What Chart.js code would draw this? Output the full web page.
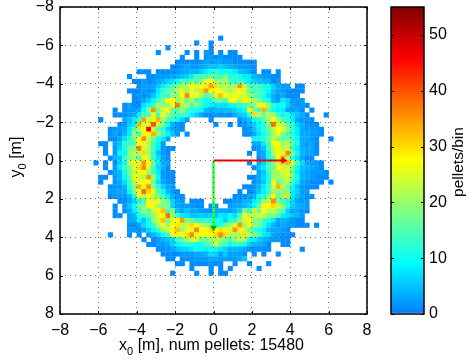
<!DOCTYPE html>
<html>
<head>
<meta charset="utf-8">
<script src="https://cdn.jsdelivr.net/npm/chart.js@4"></script>
<style>
  html, body { margin: 0; padding: 0; background: #fff; }
  #wrap { position: relative; width: 467px; height: 364px; overflow: hidden; }
  #map { position: absolute; left: 0; top: 0; }
  #bar { position: absolute; left: 380px; top: 0; }
</style>
</head>
<body>
<div id="wrap">
  <canvas id="map" width="467" height="364"></canvas>
  <canvas id="bar" width="87" height="364"></canvas>
</div>
<script>
const binSize = 0.25;
const tickValues = [-8, -6, -4, -2, 0, 2, 4, 6, 8];
const barTicks = [0, 10, 20, 30, 40, 50];
const maxCount = 55;
const barTitle = 'pellets/bin';

// lower edge of each row of bins
const rowY = [-6.5,-6.25,-6,-5.75,-5.5,-5.25,-5,-4.75,-4.5,-4.25,-4,-3.75,-3.5,-3.25,-3,-2.75,-2.5,-2.25,-2,-1.75,-1.5,-1.25,-1,-0.75,-0.5,-0.25,
  0,0.25,0.5,0.75,1,1.25,1.5,1.75,2,2.25,2.5,2.75,3,3.25,3.5,3.75,4,4.25,4.5,4.75,5,5.25,5.5,5.75];

// per row: runs of counts, first number of a run is the left edge of its first bin
const rowRuns = [
  [[0.25,1]],
  [[-1,1],[-0.25,1]],
  [[-2.5,1],[-0.25,1]],
  [[-3,1],[-1.5,1],[-1,1],[-0.5,2,1],[0.25,1],[0.75,1,1]],
  [[-1.75,1],[-1,1],[-0.5,1,2,1,2,1,1,1,1]],
  [[-2,1,1,1,1,1,2,3,2,3,3,2,2,1,1,1,1,1]],
  [[-2.25,1,1,2,3,2,2,3,4,5,5,6,5,4,3,2,2,2,1]],
  [[-4,1,1,1],[-3,1,1,1,1,2,3,3,4,4,6,8,10,13,9,10,10,8,5,4,3,1],[2.5,1,1],[3.25,1]],
  [[-4.5,1],[-3.5,1,1,2,2,2,3,4,5,6,8,14,13,14,16,15,13,19,11,12,10,8,8,4,3,2,2,1,1]],
  [[-4.25,1,1,2,1,2,3,4,6,7,9,14,12,18,15,18,28,28,20,19,21,14,12,13,11,8,6,5,4,4,1,2]],
  [[-4,1,2,2,3,5,8,11,14,18,22,22,26,25,27,24,34,30,21,22,20,20,35,23,15,14,14,11,10,6,3,2,2],[4.25,1,1]],
  [[-4.5,1,1,1,2,1,2,8,12,16,16,22,25,20,27,22,30,35,27,28,26,23,21,24,27,24,17,14,14,12,9,5,3,2,1,1,1,1]],
  [[-4.25,1,2,1,2,5,9,14,12,20,19,27,36,25,26,20,14,17,24,32,27,24,28,24,25,20,16,14,11,7,4,2,3,1,1,1]],
  [[-4.25,1,1,3,5,9,14,18,28,28,20,24,16,22,14,14,10,12,16,16,14,27,27,22,28,25,21,18,14,10,4,2,8,6,2,2,2]],
  [[-4.75,1,3,1,1,7,9,14,21,18,19,27,37,20,22,14,20,14,9,8,7,7,7,9,10,12,14,16,18,28,28,21,12,9,10,6,3,2,2,1]],
  [[-5.25,1],[-4.75,1,2,2,3,9,18,35,18,24,28,16,16,20,14,12,10,9,4,3,4,4,5,5,6,8,9,28,18,14,33,16,10,8,8,3,2,3,1],[5,1]],
  [[-5.25,1,1,1,2,3,8,14,14,26,14,27,20,16,14,14,12,8,6,3,1,1,2,1,2,1,3,5,6,12,30,22,17,22,20,14,9,11,7,5,3,1],[5.75,1]],
  [[-6,1],[-4.75,3,5,8,13,34,24,28,33,20,14,12,9,6,3],[-0.25,1],[1.25,1,3,5,9,11,16,20,27,20,14,12,8,3,2,2,1]],
  [[-5,1,2,6,8,33,24,25,40,24,18,10,4,2,1],[0,1],[0.75,1],[1.25,1,2,4,6,9,12,18,38,24,22,16,12,6,4,2,1,1]],
  [[-5.5,1,2,2,3,8,15,22,28,46,24,16,12,6,3,2,1],[1.5,1,2,5,8,12,16,23,27,26,18,12,8,3,2,2,2,1]],
  [[-5.5,1,3,1,4,8,20,14,26,28,33,20,14,9,5,2],[-1.5,1],[1.5,1,1,3,7,10,14,20,28,18,14,12,8,3,3,2,2,1]],
  [[-5.5,1,1,3,7,12,18,27,36,24,17,10,8,3],[2,9,10,13,16,23,18,16,17,13,9,3,3,2,1],[6,1]],
  [[-6,1,1],[-5.25,3,5,12,14,15,28,26,22,14,9,2],[2,3,3,8,14,27,27,20,22,16,10,3,2,3,1]],
  [[-5.75,1],[-5.25,2,6,11,17,19,37,24,22,13,8,2,1,1],[2,1,2,5,13,22,28,23,24,14,8,4,3,3,1]],
  [[-5.75,1],[-5.25,2,9,9,19,22,22,30,20,13,5,2,1],[1.75,1],[2.25,2,3,10,21,28,25,36,18,10,4,3,3,1]],
  [[-5.5,1,4,5,13,18,21,16,26,24,12,7,3,1],[2.25,1,3,9,15,27,35,22,12,7,3,1,1]],
  [[-6.25,1],[-5.75,1],[-5.25,1,6,9,22,26,24,35,28,16,8,3,2],[1.75,1],[2.25,3,6,12,18,24,30,33,24,14,7,3,2,2,1]],
  [[-5.75,1],[-5.25,2,8,13,18,25,30,36,25,14,7,4,1],[2,1,5,8,14,17,27,24,24,18,9,5,4,3,2,1]],
  [[-5.5,1,3,4,10,18,22,26,28,20,14,8,2,1,1],[2.25,3,5,12,20,22,24,26,16,8,4,3,2,2,2,1]],
  [[-6,1,1],[-5.25,2,4,9,15,28,24,22,35,20,9,2,1,1],[1.75,1,1,3,6,10,20,20,22,24,18,10,4,3,2,1,1,1]],
  [[-6,1],[-5.25,2,3,7,13,21,28,27,26,17,7,3,1,1],[2,1,3,5,10,28,16,20,22,14,8,3,2,1],[5.25,1,1],[6,1]],
  [[-5.5,1,2,2,4,12,19,33,25,35,19,12,6,3,2],[1.5,1,1,2,4,8,12,25,33,22,18,9,5,2,1,1,1]],
  [[-5.5,2,2,3,3,9,18,26,38,30,28,14,10,4,2,1],[1.25,1],[1.75,1,2,5,8,13,20,19,18,18,8,6,2,2]],
  [[-5.5,1,2,2,2,4,10,28,22,27,22,18,14,8,4,2,1],[1,1,1,1,3,4,10,12,18,28,17,20,30,8,5,3,1,1]],
  [[-5,1,1,3,6,10,14,28,24,28,18,16,6,3,2],[-1.25,1,1,1],[0.5,1,1,2,2,4,4,8,11,20,22,36,18,14,10,6,3,2,2]],
  [[-5.25,1],[-4.75,2,5,9,16,18,27,28,20,18,18,6,3,2,2,2,1,1],[-0.25,1,2],[0.75,2,3,3,4,6,9,16,28,28,30,24,20,12,6,4,3,2]],
  [[-5.25,1],[-4.75,1,3,8,13,20,16,24,28,32,14,18,5,3,5,3,3,2,2,1,3,3,3,2,4,6,18,14,24,17,28,22,24,18,16,6,3,3,2,1]],
  [[-5.25,1,1],[-4.5,3,4,10,14,16,19,25,27,38,20,14,8,7,5,5,6,5,6,5,8,7,9,7,14,27,22,22,24,23,18,18,15,8,7,5,4,2]],
  [[-4.5,3,3,9,5,9,20,24,32,18,26,27,35,18,16,12,12,12,10,12,9,6,12,12,18,24,28,18,18,14,11,8,3,4,3,2,1,1]],
  [[-4.5,1,1,2,7,10,14,21,27,20,27,29,22,24,30,28,22,20,17,10,12,16,22,24,35,20,27,19,18,12,7,4,2,3,2,2,1,1,1],[5.25,1]],
  [[-4.5,2,2,1,3,6,9,13,20,24,28,32,20,27,25,36,27,28,30,27,29,28,24,35,28,24,17,14,10,8,4,3,3,2,1]],
  [[-5.5,1],[-4.5,1],[-4,1],[-3.5,2,4,6,9,13,28,25,28,30,36,26,28,27,28,30,36,30,22,22,22,30,22,18,14,8,7,3,2,1,1,1]],
  [[-3.75,1],[-3.25,1,2,4,5,6,14,16,20,24,25,17,16,20,22,20,18,14,20,22,21,10,8,6,4,3,2,2,1,1]],
  [[-3.5,1,1,2,2,3,6,9,11,12,12,10,10,14,16,24,16,14,10,12,12,10,6,4,4,3,1],[3.5,1,1]],
  [[-3,1,1,2,3,5,6,6,8,10,10,8,10,10,8,6,4,4,4,3,2,1,1,1,1],[4.5,1]],
  [[-2.75,1,1,1,1,2,2,2,3,3,4,7,6,2,6,2,3,2,1],[2,1],[2.5,1],[3.25,1]],
  [[-2.5,1,1],[-1.75,1,1,1,2,2,2,3,3,2,3,2,2,3,5]],
  [[-2,1,1],[-1.25,1,1,1,1,2,1,1],[1,1],[1.75,1],[2.75,1]],
  [[-1.25,1],[-0.25,1],[0.25,1],[0.75,1],[2.25,1]],
  [[-2.25,1],[-1,1],[-0.25,1],[0.25,1,1]]
];

const redArrowX = [0, 3.65];
const redArrowY = [0, 0];
const greenArrowX = [0, 0];
const greenArrowY = [0, 3.5];

// jet, with its dark blue end cut off
function jetColor(v) {
  const t = 0.25 + 0.75 * v / maxCount;
  const part = (a) => Math.round(255 * Math.max(0, Math.min(1, 1.5 - Math.abs(4 * t - a))));
  return `rgb(${part(3)},${part(2)},${part(1)})`;
}

const cells = [];
rowRuns.forEach((runs, j) => {
  runs.forEach((run) => {
    run.slice(1).forEach((v, i) => {
      if (v > 0) cells.push({x: run[0] + i * binSize + binSize / 2, y: rowY[j] + binSize / 2, v});
    });
  });
});

const fontName = '"Liberation Sans", Arial, sans-serif';
const minus = (v) => String(v).replace('-', '\u2212');

// matlab style box with short ticks pointing inward
const frame = {
  id: 'frame',
  afterDraw(chart) {
    const {ctx, chartArea: a, scales} = chart;
    ctx.save();
    ctx.strokeStyle = '#000';
    ctx.lineWidth = 1;
    ctx.beginPath();
    const len = 3;
    if (scales.x.options.display) {
      tickValues.forEach((v) => {
        const p = Math.round(scales.x.getPixelForValue(v)) + 0.5;
        ctx.moveTo(p, a.top); ctx.lineTo(p, a.top + len);
        ctx.moveTo(p, a.bottom); ctx.lineTo(p, a.bottom - len);
      });
    }
    scales.y.ticks.forEach((t) => {
      const p = Math.round(scales.y.getPixelForValue(t.value)) + 0.5;
      ctx.moveTo(a.left, p); ctx.lineTo(a.left + len, p);
      ctx.moveTo(a.right, p); ctx.lineTo(a.right - len, p);
    });
    ctx.stroke();
    ctx.lineWidth = 1.5;
    ctx.strokeRect(a.left, a.top, a.right - a.left, a.bottom - a.top);
    ctx.restore();
  }
};

// axis titles have a real subscript, the scale title can't do that
function subscriptText(ctx, name, rest) {
  ctx.font = `16px ${fontName}`;
  const w1 = ctx.measureText(name).width;
  const w3 = ctx.measureText(rest).width;
  ctx.font = `11px ${fontName}`;
  const w2 = ctx.measureText('0').width;
  const left = -(w1 + w2 + w3) / 2;
  ctx.fillStyle = '#000';
  ctx.textAlign = 'left';
  ctx.textBaseline = 'alphabetic';
  ctx.fillText('0', left + w1, 5);
  ctx.font = `16px ${fontName}`;
  ctx.fillText(name, left, 0);
  ctx.fillText(rest, left + w1 + w2, 0);
}

const mapTitles = {
  id: 'mapTitles',
  afterDraw(chart) {
    const ctx = chart.ctx;
    ctx.save();
    ctx.translate(211.5, 350);
    subscriptText(ctx, 'x', ' [m], num pellets: 15480');
    ctx.restore();
    ctx.save();
    ctx.translate(21, 157);
    ctx.rotate(-Math.PI / 2);
    subscriptText(ctx, 'y', ' [m]');
    ctx.restore();
  }
};

// reads upward, a title on a right hand axis would read downward
const barLabel = {
  id: 'barLabel',
  afterDraw(chart) {
    const ctx = chart.ctx;
    ctx.save();
    ctx.translate(83, 162);
    ctx.rotate(-Math.PI / 2);
    ctx.font = `15.5px ${fontName}`;
    ctx.fillStyle = '#000';
    ctx.textAlign = 'center';
    ctx.fillText(barTitle, 0, 0);
    ctx.restore();
  }
};

const dotted = {color: 'rgba(0,0,0,0.55)', lineWidth: 1, drawTicks: false, z: 1};
const noPadX = (s) => { s.height = 50; s.paddingLeft = 0; s.paddingRight = 0; };
const noPadY = (s, w) => { s.width = w; s.paddingTop = 0; s.paddingBottom = 0; };

new Chart('map', {
  type: 'scatter',
  data: {
    datasets: [
      {
        data: cells,
        pointStyle: 'rect',
        pointBorderWidth: 0,
        pointRadius: (c) => {
          const s = c.chart.scales.x;
          return (s.getPixelForValue(binSize) - s.getPixelForValue(0) + 0.3) / Math.SQRT2;
        },
        pointBackgroundColor: (c) => (c.raw ? jetColor(c.raw.v) : '#fff'),
        order: 3
      },
      {
        data: redArrowX.map((x, i) => ({x, y: redArrowY[i]})),
        showLine: true, borderColor: '#f00', borderWidth: 2,
        pointRadius: [0, 4], pointStyle: 'triangle', pointRotation: 90,
        pointBackgroundColor: '#f00', pointBorderWidth: 0, order: 1
      },
      {
        data: greenArrowX.map((x, i) => ({x, y: greenArrowY[i]})),
        showLine: true, borderColor: '#3f3', borderWidth: 2.5,
        pointRadius: [0, 4], pointStyle: 'triangle', pointRotation: 180,
        pointBackgroundColor: '#0b0', pointBorderWidth: 0, order: 2
      }
    ]
  },
  options: {
    responsive: false,
    animation: false,
    layout: {padding: {top: 7, right: 100, left: 0, bottom: 0}},
    plugins: {legend: {display: false}, tooltip: {enabled: false}},
    scales: {
      x: {
        type: 'linear', min: -8, max: 8,
        afterBuildTicks: (s) => { s.ticks = tickValues.map((value) => ({value})); },
        afterFit: noPadX,
        grid: dotted,
        border: {display: false, dash: [1, 4]},
        ticks: {color: '#000', padding: 7, maxRotation: 0, font: {family: fontName, size: 16}, callback: minus}
      },
      y: {
        type: 'linear', min: -8, max: 8, reverse: true,
        afterBuildTicks: (s) => { s.ticks = tickValues.map((value) => ({value})); },
        afterFit: (s) => noPadY(s, 60),
        grid: dotted,
        border: {display: false, dash: [1, 4]},
        ticks: {color: '#000', padding: 6, font: {family: fontName, size: 16}, callback: minus}
      }
    }
  },
  plugins: [frame, mapTitles]
});

const barStops = [[0, '#fff'], [0.004, '#fff'], [0.005, jetColor(0)]];
[9.2, 18.3, 27.5, 36.7, 45.8, 55].forEach((v) => barStops.push([v / maxCount, jetColor(v)]));

new Chart('bar', {
  type: 'bar',
  data: {
    labels: [''],
    datasets: [{
      data: [[0, maxCount]],
      barPercentage: 1,
      categoryPercentage: 1,
      backgroundColor: (c) => {
        const a = c.chart.chartArea;
        if (!a) return '#fff';
        const g = c.chart.ctx.createLinearGradient(0, a.bottom, 0, a.top);
        barStops.forEach((s) => g.addColorStop(s[0], s[1]));
        return g;
      }
    }]
  },
  options: {
    responsive: false,
    animation: false,
    layout: {padding: {top: 7, left: 11, right: 0, bottom: 50}},
    plugins: {legend: {display: false}, tooltip: {enabled: false}},
    scales: {
      x: {display: false},
      y: {
        position: 'right', min: 0, max: maxCount,
        afterBuildTicks: (s) => { s.ticks = barTicks.map((value) => ({value})); },
        afterFit: (s) => noPadY(s, 43),
        grid: {display: false, drawTicks: false},
        border: {display: false},
        ticks: {color: '#000', padding: 5, font: {family: fontName, size: 16}}
      }
    }
  },
  plugins: [frame, barLabel]
});
</script>
</body>
</html>
